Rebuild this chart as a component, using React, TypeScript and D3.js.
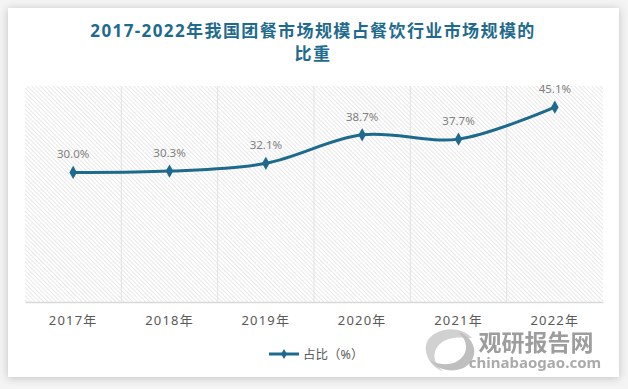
import { useRef, useEffect } from "react";
import * as d3 from "d3";

const years = ["2017年", "2018年", "2019年", "2020年", "2021年", "2022年"];
const shares = [30.0, 30.3, 32.1, 38.7, 37.7, 45.1];
const yDomain = [0, 50];
const titleLines = ["2017-2022年我国团餐市场规模占餐饮行业市场规模的", "比重"];
const legendLabel = "占比（%）";

const W = 628;
const H = 389;
const plot = { left: 25, right: 603, top: 86, bottom: 302 };
const lineColor = "#1e6a8c";
const font = "'Noto Sans', 'Noto Sans CJK SC', sans-serif";

export default function App() {
  const ref = useRef<SVGSVGElement | null>(null);

  useEffect(() => {
    const svg = d3.select(ref.current);
    svg.selectAll("*").remove();

    const defs = svg.append("defs");
    const shadow = defs.append("filter").attr("id", "shadow")
      .attr("x", "-5%").attr("y", "-5%").attr("width", "110%").attr("height", "110%");
    shadow.append("feDropShadow")
      .attr("dx", 0).attr("dy", 1).attr("stdDeviation", 4)
      .attr("flood-color", "#000").attr("flood-opacity", 0.22);

    const hatch = defs.append("pattern").attr("id", "hatch")
      .attr("patternUnits", "userSpaceOnUse")
      .attr("width", 3).attr("height", 3)
      .attr("patternTransform", "rotate(-45)");
    hatch.append("rect").attr("width", 3).attr("height", 3).attr("fill", "#fff");
    hatch.append("line").attr("x1", 0).attr("y1", 0).attr("x2", 0).attr("y2", 3)
      .attr("stroke", "#d2d2d2").attr("stroke-width", 1);

    // page + card
    svg.append("rect").attr("width", W).attr("height", H).attr("fill", "#f4f4f4");
    svg.append("rect")
      .attr("x", 8).attr("y", 8).attr("width", 611).attr("height", 369)
      .attr("fill", "#fff").attr("filter", "url(#shadow)");

    // title
    const title = svg.append("text")
      .attr("text-anchor", "middle")
      .attr("font-family", font)
      .attr("font-weight", "bold")
      .attr("font-size", 17)
      .attr("letter-spacing", 1.4)
      .attr("fill", "#1f6b8d");
    titleLines.forEach((t, i) => {
      title.append("tspan").attr("x", 313).attr("y", 37 + i * 23).text(t);
    });

    const x = d3.scaleBand().domain(years).range([plot.left, plot.right]);
    const y = d3.scaleLinear().domain(yDomain).range([plot.bottom, plot.top]);

    // plot area hatch
    svg.append("rect")
      .attr("x", plot.left).attr("y", plot.top)
      .attr("width", plot.right - plot.left).attr("height", plot.bottom - plot.top)
      .attr("fill", "url(#hatch)");

    // vertical gridlines at category boundaries
    svg.append("g").selectAll("line")
      .data(years.slice(1))
      .join("line")
      .attr("x1", (d) => x(d)!).attr("x2", (d) => x(d)!)
      .attr("y1", plot.top).attr("y2", plot.bottom)
      .attr("stroke", "#e2e2e2").attr("stroke-width", 1);

    // x axis
    const xAxis = svg.append("g")
      .attr("transform", `translate(0, ${plot.bottom})`)
      .call(d3.axisBottom(x).tickSize(0).tickPadding(14));
    xAxis.select(".domain").attr("stroke", "#d9d9d9").attr("stroke-width", 1.5);
    xAxis.selectAll("text")
      .attr("font-family", font)
      .attr("font-size", 13)
      .attr("letter-spacing", 1.2)
      .attr("fill", "#595959");

    const pts = years.map((d, i) => ({ year: d, value: shares[i] }));
    const cx = (d: { year: string }) => x(d.year)! + x.bandwidth() / 2;

    const line = d3.line<{ year: string; value: number }>()
      .x(cx)
      .y((d) => y(d.value))
      .curve(d3.curveCatmullRom.alpha(0.5));

    svg.append("path")
      .datum(pts)
      .attr("fill", "none")
      .attr("stroke", lineColor)
      .attr("stroke-width", 3)
      .attr("d", line);

    const diamond = d3.symbol().type(d3.symbolDiamond).size(50);
    svg.append("g").selectAll("path")
      .data(pts)
      .join("path")
      .attr("transform", (d) => `translate(${cx(d)}, ${y(d.value)})`)
      .attr("d", diamond)
      .attr("fill", lineColor);

    svg.append("g").selectAll("text")
      .data(pts)
      .join("text")
      .attr("x", cx)
      .attr("y", (d) => y(d.value) - 14)
      .attr("text-anchor", "middle")
      .attr("font-family", font)
      .attr("font-size", 11.5)
      .attr("fill", "#7f7f7f")
      .text((d) => d.value.toFixed(1) + "%");

    // legend
    const lg = svg.append("g").attr("transform", "translate(269, 354)");
    lg.append("line").attr("x1", 0).attr("x2", 30).attr("y1", 0).attr("y2", 0)
      .attr("stroke", lineColor).attr("stroke-width", 3);
    lg.append("path").attr("transform", "translate(15,0)")
      .attr("d", d3.symbol().type(d3.symbolDiamond).size(30)).attr("fill", lineColor);
    lg.append("text").attr("x", 34).attr("y", 4.5)
      .attr("font-family", font).attr("font-size", 12.5)
      .attr("fill", "#595959").text(legendLabel);

    // watermark
    const wm = svg.append("g").attr("opacity", 0.85);
    wm.append("path")
      .attr("d", "M472,338 C462,326 438,326 428,340 C422,350 428,366 444,372 C430,362 432,346 446,340 C456,336 466,338 472,338 Z")
      .attr("fill", "#c9c9c9");
    wm.append("path")
      .attr("d", "M430,360 C440,374 464,374 472,360 C478,350 472,336 458,332 C470,342 468,356 456,362 C446,366 436,364 430,360 Z")
      .attr("fill", "#b5b5b5");
    wm.append("text").attr("x", 536).attr("y", 351)
      .attr("text-anchor", "middle")
      .attr("font-family", "'Noto Sans CJK SC', sans-serif")
      .attr("font-weight", "bold").attr("font-size", 23)
      .attr("fill", "#8c8c8c").text("观研报告网");
    wm.append("text").attr("x", 535).attr("y", 368)
      .attr("text-anchor", "middle")
      .attr("font-family", font)
      .attr("font-weight", "bold").attr("font-size", 15)
      .attr("fill", "#9c9c9c").text("chinabaogao.com");
  }, []);

  return (
    <svg
      ref={ref}
      width={W}
      height={H}
      style={{ position: "absolute", left: 0, top: 0, display: "block" }}
    />
  );
}
